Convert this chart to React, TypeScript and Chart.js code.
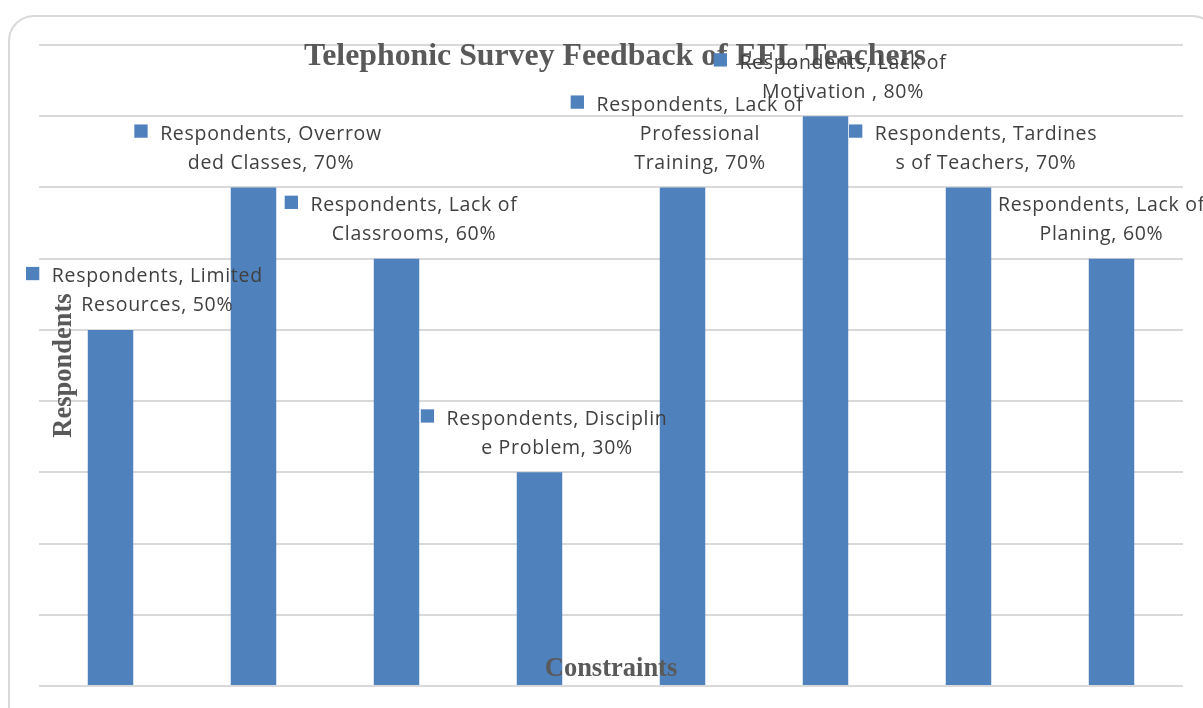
import React, { useEffect, useRef } from "react";
import { Chart, registerables } from "chart.js";

Chart.register(...registerables);

// Survey data
const seriesName = "Respondents";
const categories = [
  "Limited Resources",
  "Overrowded Classes",
  "Lack of Classrooms",
  "Discipline Problem",
  "Lack of Professional Training",
  "Lack of Motivation",
  "Tardiness of Teachers",
  "Lack of Planing",
];
const respondents = [50, 70, 60, 30, 70, 80, 70, 60];

// Wrapped data-label text (value is appended to the last line)
const labelLines = [
  ["Respondents, Limited", "Resources"],
  ["Respondents, Overrow", "ded Classes"],
  ["Respondents, Lack of", "Classrooms"],
  ["Respondents, Disciplin", "e Problem"],
  ["Respondents, Lack of", "Professional", "Training"],
  ["Respondents, Lack of", "Motivation "],
  ["Respondents, Tardines", "s of Teachers"],
  ["Respondents, Lack of", "Planing"],
];

const yMin = 0;
const yMax = 90;
const yStep = 10;

const chartTitle = "Telephonic Survey Feedback of EFL Teachers";
const xTitle = "Constraints";
const yTitle = "Respondents";

const BAR_COLOR = "#4F81BD";
const TEXT_COLOR = "#404040";
const TITLE_COLOR = "#595959";
const GRID_COLOR = "#d9d9d9";

const LABEL_FONT = '19.5px "Open Sans"';
const LABEL_SPACING = "0.7px";
const TITLE_FONT = 'bold 31.8px "Liberation Serif"';
const AXIS_TITLE_FONT = 'bold 26.5px "Liberation Serif"';

const overlayPlugin = {
  id: "overlayText",
  afterDatasetsDraw(chart: any) {
    const { ctx, chartArea } = chart;
    const cx = (chartArea.left + chartArea.right) / 2;
    const cy = (chartArea.top + chartArea.bottom) / 2;

    ctx.save();
    ctx.fillStyle = TITLE_COLOR;
    ctx.textAlign = "center";
    ctx.textBaseline = "alphabetic";

    // chart title
    ctx.font = TITLE_FONT;
    ctx.fillText(chartTitle, cx + 4, 65);

    // x axis title
    ctx.font = AXIS_TITLE_FONT;
    ctx.fillText(xTitle, cx, 675.5);

    // y axis title
    ctx.save();
    ctx.translate(71, cy);
    ctx.rotate(-Math.PI / 2);
    ctx.fillText(yTitle, 0, 0);
    ctx.restore();

    // data labels with legend key
    const meta = chart.getDatasetMeta(0);
    const values = chart.data.datasets[0].data as number[];
    ctx.font = LABEL_FONT;
    if ("letterSpacing" in ctx) (ctx as any).letterSpacing = LABEL_SPACING;
    const keySize = 13.3;
    const keyGap = 12.5;
    const lineH = 29;
    const hideKey = [7];
    meta.data.forEach((bar: any, i: number) => {
      const lines = labelLines[i].slice();
      lines[lines.length - 1] = `${lines[lines.length - 1]}, ${values[i]}%`;
      const widths = lines.map((l) => ctx.measureText(l).width);
      const w = Math.max(...widths);
      let center = bar.x + 17.5;
      const showKey = !hideKey.includes(i);
      const blockLeft = center - w / 2 - (showKey ? keyGap + keySize : 0);
      if (blockLeft < 26) center += 26 - blockLeft;
      if (center + w / 2 > chart.width + 2) center = chart.width + 2 - w / 2;

      const lastBase = bar.y - 18.7;
      const firstBase = lastBase - (lines.length - 1) * lineH;
      ctx.fillStyle = TEXT_COLOR;
      ctx.textAlign = "center";
      lines.forEach((l, k) => {
        ctx.fillText(l, center, firstBase + k * lineH);
      });
      if (showKey) {
        ctx.fillStyle = BAR_COLOR;
        const kx = center - widths[0] / 2 - keyGap - keySize;
        ctx.fillRect(kx, firstBase - 15.3, keySize, keySize);
      }
    });
    ctx.restore();
  },
};

export default function App() {
  const canvasRef = useRef<HTMLCanvasElement | null>(null);

  useEffect(() => {
    let chart: Chart | null = null;
    let cancelled = false;

    const build = () => {
      if (cancelled || !canvasRef.current) return;
      chart = new Chart(canvasRef.current, {
        type: "bar",
        data: {
          labels: categories,
          datasets: [
            {
              label: seriesName,
              data: respondents,
              backgroundColor: BAR_COLOR,
              borderWidth: 0,
              categoryPercentage: 1,
              barPercentage: 0.318,
            },
          ],
        },
        options: {
          responsive: false,
          animation: false,
          devicePixelRatio: 1,
          layout: { padding: { left: 39, right: 20, top: 45, bottom: 22 } },
          plugins: {
            legend: { display: false },
            title: { display: false },
            tooltip: { enabled: false },
          },
          scales: {
            x: {
              grid: { display: false, drawTicks: false },
              border: { display: false },
              ticks: { display: false },
              afterFit: (s: any) => {
                s.height = 0;
              },
            },
            y: {
              min: yMin,
              max: yMax,
              grid: { color: GRID_COLOR, lineWidth: 2, drawTicks: false },
              border: { display: false },
              ticks: { display: false, stepSize: yStep },
              afterFit: (s: any) => {
                s.width = 0;
              },
            },
          },
        },
        plugins: [overlayPlugin],
      });
    };

    const fontsReady =
      (document as any).fonts && (document as any).fonts.load
        ? Promise.all([
            (document as any).fonts.load(LABEL_FONT),
            (document as any).fonts.load(TITLE_FONT),
          ]).catch(() => null)
        : Promise.resolve(null);
    fontsReady.then(build);

    return () => {
      cancelled = true;
      if (chart) chart.destroy();
    };
  }, []);

  return (
    <div
      style={{
        position: "fixed",
        left: 0,
        top: 0,
        width: 1203,
        height: 708,
        background: "#ffffff",
        overflow: "hidden",
      }}
    >
      <div
        style={{
          position: "absolute",
          left: 8,
          top: 15,
          width: 1210,
          height: 720,
          boxSizing: "border-box",
          border: "2.5px solid #d9d9d9",
          borderRadius: 26,
        }}
      />
      <canvas
        ref={canvasRef}
        width={1203}
        height={708}
        style={{ position: "absolute", left: 0, top: 0, width: 1203, height: 708 }}
      />
    </div>
  );
}
